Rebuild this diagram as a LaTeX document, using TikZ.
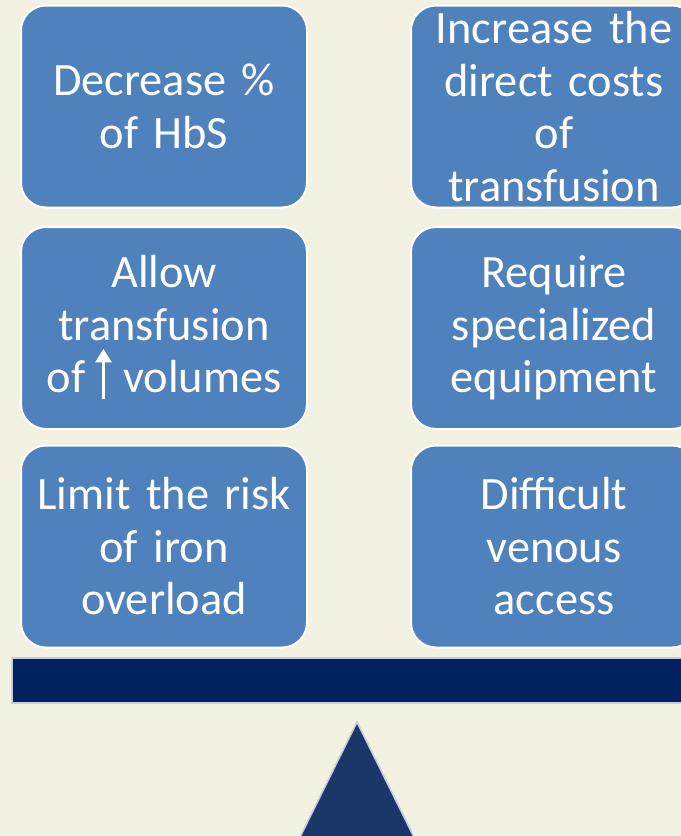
\documentclass[tikz,border=0pt]{standalone}
\usepackage{fontspec}
\setmainfont{Carlito}[WordSpace={0.85,0,0}]
\usetikzlibrary{arrows.meta}

\definecolor{paper}{HTML}{F3F1E2}
\definecolor{tile}{HTML}{4F81BD}
\definecolor{beamblue}{HTML}{002060}
\definecolor{pivotblue}{HTML}{1B3769}
\definecolor{rim}{HTML}{C6CEDF}

\tikzset{
  card/.style={draw=white, line width=1.5pt, fill=tile, rounded corners=18.75pt,
    minimum width=214.5pt, minimum height=151.5pt, inner sep=0pt,
    text width=210pt, align=center, text=white,
    font=\fontsize{34.8}{39.4}\selectfont},
  beam/.style={draw=rim, line width=1.5pt, fill=beamblue},
  pivot/.style={draw=rim, line width=1.2pt, fill=pivotblue, line join=miter},
}

% small upward arrow used inside the text of a card
\newcommand\uparrowmark{\tikz[baseline=0pt]\draw[white, line width=2pt,
  -{Triangle[width=12pt,length=10pt]}] (0pt,-4.5pt) -- (0pt,33pt);}

\begin{document}
\begin{tikzpicture}[x=0.75pt, y=-0.75pt]
  \useasboundingbox (0,0) rectangle (681,836);
  \fill[paper] (0,0) rectangle (681,836);
  \clip (0,0) rectangle (681,836);

  % arguments for (left) and against (right)
  \node[card] (l1) at (164,106.5) {Decrease \%\\of HbS};
  \node[card] (l2) at (164,328) {Allow\\transfusion\\of\hspace{0.22em}\uparrowmark\hspace{0.25em}volumes};
  \node[card] (l3) at (164,546.5) {Limit the risk\\of iron\\overload};

  \node[card] (r1) at (554,106.5) {Increase the\\direct costs\\of\\transfusion};
  \node[card] (r2) at (554,328) {Require\\specialized\\equipment};
  \node[card] (r3) at (554,546.5) {Difficult\\venous\\access};

  % the balance: beam and pivot
  \draw[beam] (12,657.5) rectangle (700,702.5);
  \draw[pivot] (357,722) -- (420.4,850) -- (293.6,850) -- cycle;
\end{tikzpicture}
\end{document}
